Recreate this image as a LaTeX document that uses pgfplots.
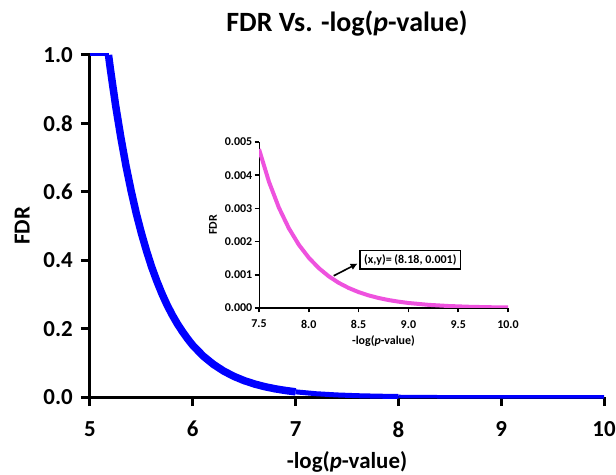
\documentclass[border=0pt]{standalone}
\usepackage{fontspec}
\setmainfont{Carlito}
\usepackage{pgfplots}
\pgfplotsset{compat=1.18}
\usetikzlibrary{arrows.meta}
\definecolor{fdrblue}{RGB}{0,0,255}
\definecolor{fdrpink}{RGB}{238,82,222}

\begin{document}
\begin{tikzpicture}
% main plot
\begin{axis}[
    at={(0,0)}, anchor=south west,
    scale only axis, width=514bp, height=342bp,
    xmin=5, xmax=10, ymin=0, ymax=1,
    clip=false,
    axis lines*=left,
    tick align=outside,
    tick style={line width=3bp, black},
    major tick length=9bp,
    xtick={5,6,7,8,9,10},
    ytick={0,0.2,0.4,0.6,0.8,1.0},
    /pgf/number format/assume math mode=true,
    tick label style={font=\bfseries\fontsize{23}{26}\selectfont, inner sep=0pt},
    xticklabel style={yshift=-15bp},
    yticklabel style={xshift=-8bp, /pgf/number format/fixed,
      /pgf/number format/fixed zerofill, /pgf/number format/precision=1},
    title={FDR Vs. -log(\textit{p}-value)},
    title style={font=\bfseries\fontsize{28}{32}\selectfont,
      at={(axis description cs:0.5,1.076)}, anchor=center},
    xlabel={-log(\textit{p}-value)},
    ylabel={FDR},
    label style={font=\bfseries\fontsize{23}{26}\selectfont},
    xlabel style={at={(axis description cs:0.5,-0.19)}, anchor=center},
    ylabel style={at={(axis description cs:-0.132,0.5)}, anchor=center},
  ]
  % axis lines and tick marks
  \draw[line width=3bp, line join=miter]
    (rel axis cs:0,1) -- (rel axis cs:0,0) -- (rel axis cs:1,0);
  \draw[line width=3bp]
    (axis cs:5,0) -- ([yshift=-9bp]axis cs:5,0)
    (axis cs:6,0) -- ([yshift=-9bp]axis cs:6,0)
    (axis cs:7,0) -- ([yshift=-9bp]axis cs:7,0)
    (axis cs:8,0) -- ([yshift=-9bp]axis cs:8,0)
    (axis cs:9,0) -- ([yshift=-9bp]axis cs:9,0)
    (axis cs:10,0) -- ([yshift=-9bp]axis cs:10,0)
    (axis cs:5,0) -- ([xshift=-9bp]axis cs:5,0)
    (axis cs:5,0.2) -- ([xshift=-9bp]axis cs:5,0.2)
    (axis cs:5,0.4) -- ([xshift=-9bp]axis cs:5,0.4)
    (axis cs:5,0.6) -- ([xshift=-9bp]axis cs:5,0.6)
    (axis cs:5,0.8) -- ([xshift=-9bp]axis cs:5,0.8)
    (axis cs:5,1) -- ([xshift=-9bp]axis cs:5,1);
  \addplot[fdrblue, line width=3bp] coordinates {(5,1) (5.18,1)};
  \addplot[fdrblue, line width=7.5bp, line join=round] coordinates {
    (5.18,1.000) (5.20,0.955) (5.25,0.851) (5.30,0.759) (5.35,0.676)
    (5.40,0.603) (5.45,0.537) (5.50,0.479) (5.55,0.427) (5.60,0.380)
    (5.65,0.339) (5.70,0.302) (5.75,0.269) (5.80,0.240) (5.85,0.214)
    (5.90,0.191) (5.95,0.170) (6.00,0.151) (6.10,0.120) (6.20,0.0955)
    (6.30,0.0759) (6.40,0.0603) (6.50,0.0479) (6.60,0.0380) (6.70,0.0302)
    (6.80,0.0240) (6.90,0.0191) (7.00,0.0151)
  };
  \addplot[fdrblue, line width=5bp, line join=round] coordinates {
    (7.00,0.0151) (7.20,0.00955) (7.40,0.00603) (7.60,0.00380)
    (7.80,0.00240) (8.00,0.00151)
  };
  \addplot[fdrblue, line width=3.5bp, line join=round] coordinates {
    (8.00,0.00151) (8.50,0.000479) (9.00,0.000151) (9.50,0.0000479)
    (10.0,0.0000151)
  };
\end{axis}

% inset
\begin{axis}[
    at={(169bp,89bp)}, anchor=south west,
    scale only axis, width=249bp, height=166bp,
    xmin=7.5, xmax=10, ymin=0, ymax=0.005,
    axis lines*=left,
    tick align=outside,
    tick style={line width=1.5bp, black},
    major tick length=4.5bp,
    xtick={7.5,8.0,8.5,9.0,9.5,10.0},
    ytick={0,0.001,0.002,0.003,0.004,0.005},
    scaled y ticks=false,
    /pgf/number format/assume math mode=true,
    tick label style={font=\bfseries\fontsize{12}{14}\selectfont, inner sep=0pt},
    xticklabel style={yshift=-7.5bp, /pgf/number format/fixed,
      /pgf/number format/fixed zerofill, /pgf/number format/precision=1},
    yticklabel style={xshift=-2bp, /pgf/number format/fixed,
      /pgf/number format/fixed zerofill, /pgf/number format/precision=3},
    xlabel={-log(\textit{p}-value)},
    ylabel={FDR},
    label style={font=\bfseries\fontsize{12}{14}\selectfont},
    xlabel style={at={(axis description cs:0.5,-0.199)}, anchor=center},
    ylabel style={at={(axis description cs:-0.185,0.5)}, anchor=center},
  ]
  \draw[line width=1.5bp, line join=miter]
    (rel axis cs:0,1) -- (rel axis cs:0,0) -- (rel axis cs:1,0);
  \draw[line width=1.5bp]
    (axis cs:7.5,0) -- ([yshift=-4.5bp]axis cs:7.5,0)
    (axis cs:8,0) -- ([yshift=-4.5bp]axis cs:8,0)
    (axis cs:8.5,0) -- ([yshift=-4.5bp]axis cs:8.5,0)
    (axis cs:9,0) -- ([yshift=-4.5bp]axis cs:9,0)
    (axis cs:9.5,0) -- ([yshift=-4.5bp]axis cs:9.5,0)
    (axis cs:10,0) -- ([yshift=-4.5bp]axis cs:10,0)
    (axis cs:7.5,0) -- ([xshift=-4.5bp]axis cs:7.5,0)
    (axis cs:7.5,0.001) -- ([xshift=-4.5bp]axis cs:7.5,0.001)
    (axis cs:7.5,0.002) -- ([xshift=-4.5bp]axis cs:7.5,0.002)
    (axis cs:7.5,0.003) -- ([xshift=-4.5bp]axis cs:7.5,0.003)
    (axis cs:7.5,0.004) -- ([xshift=-4.5bp]axis cs:7.5,0.004)
    (axis cs:7.5,0.005) -- ([xshift=-4.5bp]axis cs:7.5,0.005);
  \addplot[fdrpink, line width=4bp, line join=round] coordinates {
    (7.5,0.004786) (7.6,0.003802) (7.7,0.003020) (7.8,0.002399)
    (7.9,0.001905) (8.0,0.001514) (8.1,0.001202) (8.2,0.000955)
    (8.3,0.000759) (8.4,0.000603) (8.5,0.000479) (8.6,0.000380)
    (8.7,0.000302) (8.8,0.000240) (8.9,0.000191) (9.0,0.000151)
    (9.2,0.0000955) (9.4,0.0000603) (9.6,0.0000380) (9.8,0.0000240)
    (10.0,0.0000151)
  };
  \draw[-{Latex[length=7bp,width=7bp]}, line width=1.6bp]
    (axis cs:8.25,0.00097) -- (axis cs:8.49,0.00134);
  \node[draw, line width=1.6bp, anchor=west, inner xsep=4bp, inner ysep=4bp,
        font=\bfseries\fontsize{12}{14}\selectfont]
    at (axis cs:8.507,0.00145) {(x,y)= (8.18, 0.001)};
\end{axis}

\pgfresetboundingbox
\path (-90bp,-78bp) rectangle (526bp,397bp);
\end{tikzpicture}
\end{document}
